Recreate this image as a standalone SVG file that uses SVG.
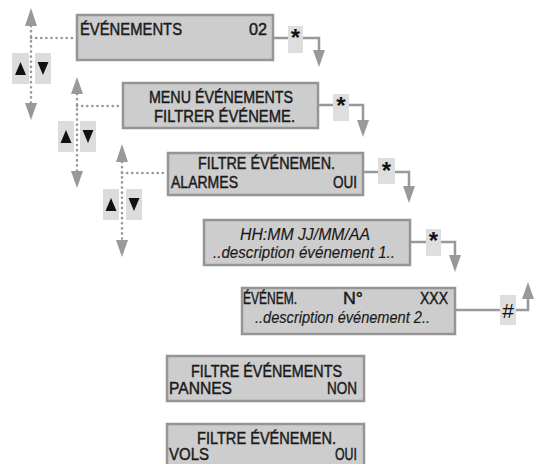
<svg xmlns="http://www.w3.org/2000/svg" width="536" height="464" viewBox="0 0 536 464">
<style>
.box{fill:#cdcdcd;stroke:#959595;stroke-width:2.5}
.t{font-family:"Liberation Sans",Arial,sans-serif;font-size:16.5px;fill:#1a1a1a;stroke:#1a1a1a;stroke-width:0.45}
.i{font-family:"Liberation Sans",Arial,sans-serif;font-size:16px;font-style:italic;fill:#1a1a1a;stroke:#1a1a1a;stroke-width:0.15}
.key{fill:#dedede}
.btn{fill:#dcdcdc}
.tri{fill:#111}
.ln{fill:none;stroke:#999;stroke-width:2.5}
.dot{fill:none;stroke:#999;stroke-width:2.6;stroke-dasharray:0.1 5;stroke-linecap:round}
.ah{fill:#999}
.ast{font-family:"Liberation Sans",Arial,sans-serif;font-size:24px;font-weight:bold;fill:#111;text-anchor:middle}
.hash{font-family:"Liberation Sans",Arial,sans-serif;font-size:21px;fill:#111;text-anchor:middle}
</style>
<g id="connectors">
  <line class="dot" x1="31" y1="26" x2="31" y2="103"/>
  <line class="dot" x1="31" y1="38" x2="76" y2="38"/>
  <polygon class="ah" points="31,8 25,26 37,26"/>
  <polygon class="ah" points="31,120 25,103 37,103"/>
  <rect class="btn" x="12" y="53" width="17" height="31"/>
  <rect class="btn" x="35" y="53" width="16" height="31"/>
  <polygon class="tri" points="20.5,62 15,75 26,75"/>
  <polygon class="tri" points="43,75 37.5,62 48.5,62"/>
  <line class="dot" x1="77" y1="94" x2="77" y2="172"/>
  <line class="dot" x1="77" y1="106" x2="122" y2="106"/>
  <polygon class="ah" points="77,77 71,94 83,94"/>
  <polygon class="ah" points="77,188 71,171 83,171"/>
  <rect class="btn" x="58" y="121" width="16" height="31"/>
  <rect class="btn" x="80" y="121" width="16" height="31"/>
  <polygon class="tri" points="66,130 60.5,143 71.5,143"/>
  <polygon class="tri" points="88,143 82.5,130 93.5,130"/>
  <line class="dot" x1="122" y1="162" x2="122" y2="240"/>
  <line class="dot" x1="122" y1="173" x2="167" y2="173"/>
  <polygon class="ah" points="122,144 116,162 128,162"/>
  <polygon class="ah" points="122,257 116,240 128,240"/>
  <rect class="btn" x="103" y="189" width="16" height="31"/>
  <rect class="btn" x="126" y="189" width="16" height="31"/>
  <polygon class="tri" points="111,198 105.5,211 116.5,211"/>
  <polygon class="tri" points="134,211 128.5,198 139.5,198"/>
  <polyline class="ln" points="273,38 319,38 319,51"/>
  <rect class="key" x="288" y="26" width="15" height="27"/>
  <text class="ast" x="295.5" y="46">*</text>
  <polygon class="ah" points="319,67 313,50 325,50"/>
  <polyline class="ln" points="318,105 363,105 363,121"/>
  <rect class="key" x="333" y="94" width="16" height="27"/>
  <text class="ast" x="341" y="114">*</text>
  <polygon class="ah" points="363,137 357,120 369,120"/>
  <polyline class="ln" points="363,172 409,172 409,187"/>
  <rect class="key" x="378" y="158" width="17" height="26"/>
  <text class="ast" x="386.5" y="179">*</text>
  <polygon class="ah" points="409,203 403,186 415,186"/>
  <polyline class="ln" points="410,242 455,242 455,256"/>
  <rect class="key" x="426" y="229" width="15" height="27"/>
  <text class="ast" x="433.5" y="249">*</text>
  <polygon class="ah" points="455,272 449,255 461,255"/>
  <polyline class="ln" points="455,310 528,310 528,298"/>
  <rect class="key" x="500" y="295" width="16" height="30"/>
  <text class="hash" x="508" y="318">#</text>
  <polygon class="ah" points="528,282 522,299 534,299"/>
</g>
<g id="n1">
  <rect class="box" x="77" y="15" width="196" height="45"/>
  <text class="t" x="80" y="35" textLength="102" lengthAdjust="spacingAndGlyphs">ÉVÉNEMENTS</text>
  <text class="t" x="249" y="35" textLength="18" lengthAdjust="spacingAndGlyphs">02</text>
</g>
<g id="n2">
  <rect class="box" x="123" y="83" width="195" height="45"/>
  <text class="t" x="149" y="103" textLength="144" lengthAdjust="spacingAndGlyphs">MENU ÉVÉNEMENTS</text>
  <text class="t" x="154" y="122" textLength="141" lengthAdjust="spacingAndGlyphs">FILTRER ÉVÉNEME.</text>
</g>
<g id="n3">
  <rect class="box" x="168" y="153" width="195" height="42"/>
  <text class="t" x="198" y="169" textLength="137" lengthAdjust="spacingAndGlyphs">FILTRE ÉVÉNEMEN.</text>
  <text class="t" x="171" y="188" textLength="67" lengthAdjust="spacingAndGlyphs">ALARMES</text>
  <text class="t" x="333" y="188" textLength="24" lengthAdjust="spacingAndGlyphs">OUI</text>
</g>
<g id="n4">
  <rect class="box" x="204" y="220" width="206" height="45"/>
  <text class="i" x="240" y="240" textLength="130" lengthAdjust="spacingAndGlyphs">HH:MM JJ/MM/AA</text>
  <text class="i" x="213" y="258" textLength="182" lengthAdjust="spacingAndGlyphs">..description événement 1..</text>
</g>
<g id="n5">
  <rect class="box" x="242" y="288" width="213" height="46"/>
  <text class="t" x="243" y="304" textLength="54" lengthAdjust="spacingAndGlyphs">ÉVÉNEM.</text>
  <text class="t" x="343" y="304" textLength="20" lengthAdjust="spacingAndGlyphs">N°</text>
  <text class="t" x="420" y="304" textLength="28" lengthAdjust="spacingAndGlyphs">XXX</text>
  <text class="i" x="255" y="323" textLength="175" lengthAdjust="spacingAndGlyphs">..description événement 2..</text>
</g>
<g id="n6">
  <rect class="box" x="167" y="356" width="197" height="45"/>
  <text class="t" x="191" y="377" textLength="151" lengthAdjust="spacingAndGlyphs">FILTRE ÉVÉNEMENTS</text>
  <text class="t" x="169" y="394" textLength="63" lengthAdjust="spacingAndGlyphs">PANNES</text>
  <text class="t" x="327" y="394" textLength="30" lengthAdjust="spacingAndGlyphs">NON</text>
</g>
<g id="n7">
  <rect class="box" x="167" y="424" width="197" height="46"/>
  <text class="t" x="197" y="444" textLength="139" lengthAdjust="spacingAndGlyphs">FILTRE ÉVÉNEMEN.</text>
  <text class="t" x="169" y="460" textLength="40" lengthAdjust="spacingAndGlyphs">VOLS</text>
  <text class="t" x="335" y="460" textLength="22" lengthAdjust="spacingAndGlyphs">OUI</text>
</g>
</svg>
